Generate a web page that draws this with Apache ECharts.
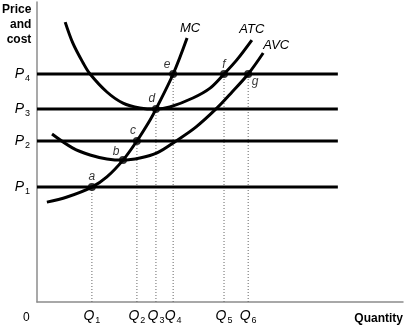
<!DOCTYPE html>
<html>
<head>
<meta charset="utf-8">
<script src="https://cdn.jsdelivr.net/npm/echarts@6/dist/echarts.min.js"></script>
<style>
  html, body { margin: 0; padding: 0; background: #fff; }
  #chart { width: 406px; height: 326px; }
</style>
</head>
<body>
<div id="chart"></div>
<script>
// Quantity levels Q1..Q6 and price levels P1..P4
const quantities = [1.5, 2.73, 3.25, 3.72, 5.11, 5.77];
const quantitySubs = ['1', '2', '3', '4', '5', '6'];
const prices = [3.83, 5.37, 6.43, 7.6];
const priceSubs = ['1', '2', '3', '4'];
const priceLineEnd = 8.22;

// Cost curves as [quantity, cost]
const mcCurve = [[0.27, 3.33], [0.82, 3.5], [1.5, 3.83], [1.91, 4.17], [2.35, 4.73], [2.73, 5.37], [3.09, 6.07], [3.25, 6.43], [3.72, 7.6], [4.1, 8.8]];
const atcCurve = [[0.77, 9.33], [0.98, 8.63], [1.26, 7.97], [1.45, 7.6], [1.91, 7.0], [2.35, 6.63], [2.81, 6.47], [3.25, 6.43], [3.63, 6.5], [4.26, 6.8], [4.73, 7.13], [5.11, 7.6], [5.46, 8.07], [5.87, 8.73]];
const avcCurve = [[0.41, 5.6], [0.98, 5.13], [1.45, 4.9], [1.91, 4.77], [2.35, 4.73], [2.81, 4.8], [3.28, 4.97], [3.8, 5.37], [4.34, 5.83], [4.92, 6.47], [5.33, 7.0], [5.77, 7.6], [6.18, 8.3]];

// Marked points: name, quantity, price
const pointNames = ['a', 'b', 'c', 'd', 'e', 'f', 'g'];
const pointX = [1.5, 2.35, 2.73, 3.25, 3.72, 5.11, 5.77];
const pointY = [3.83, 4.73, 5.37, 6.43, 7.6, 7.6, 7.6];
// points that get a dotted drop line to the quantity axis
const dropPoints = ['a', 'c', 'd', 'e', 'f', 'g'];

const FONT = 'Liberation Sans, Arial, Helvetica, sans-serif';

const labelPlacement = {
  a: { position: 'top', offset: [0, 2] },
  b: { position: 'top', offset: [-7, 4] },
  c: { position: 'top', offset: [-4, 2] },
  d: { position: 'top', offset: [-4, 2] },
  e: { position: 'top', offset: [-6, 3] },
  f: { position: 'top', offset: [0, 3] },
  g: { position: 'bottom', offset: [7, -4] }
};

const chart = echarts.init(document.getElementById('chart'), null, { renderer: 'canvas' });

function curveSeries(data, name, labelOffset) {
  return {
    type: 'line',
    smooth: 0.35,
    showSymbol: false,
    symbol: 'none',
    silent: true,
    lineStyle: { color: '#000', width: 3 },
    endLabel: {
      show: true, formatter: name, distance: 0, offset: labelOffset,
      align: 'center', verticalAlign: 'bottom',
      fontFamily: FONT, fontStyle: 'italic', fontSize: 13, color: '#000'
    },
    data: data,
    z: 3
  };
}

const series = [];

// horizontal price lines
prices.forEach(p => {
  series.push({
    type: 'line', symbol: 'none', silent: true,
    lineStyle: { color: '#000', width: 3 },
    data: [[0, p], [priceLineEnd, p]],
    z: 2
  });
});

// dotted drop lines
dropPoints.forEach(n => {
  const i = pointNames.indexOf(n);
  series.push({
    type: 'line', symbol: 'none', silent: true,
    lineStyle: { color: '#666', width: 1, type: [1, 2] },
    data: [[pointX[i], 0], [pointX[i], pointY[i]]],
    z: 1
  });
});

series.push(curveSeries(mcCurve, 'MC', [3, -3]));
series.push(curveSeries(atcCurve, 'ATC', [0, -4]));
series.push(curveSeries(avcCurve, 'AVC', [13, -1]));

series.push({
  type: 'scatter', symbolSize: 8, silent: true,
  itemStyle: { color: '#000' },
  data: pointNames.map((n, i) => ({
    value: [pointX[i], pointY[i]],
    label: {
      show: true, formatter: n, position: labelPlacement[n].position, offset: labelPlacement[n].offset,
      distance: 2, fontFamily: FONT, fontStyle: 'italic', fontSize: 12, color: '#000'
    }
  })),
  z: 5
});

const subRich = {
  i: { fontFamily: FONT, fontStyle: 'italic', fontSize: 14, color: '#000', lineHeight: 16 },
  s: { fontFamily: FONT, fontSize: 9, color: '#000', padding: [9, 0, 0, 1], lineHeight: 16 }
};

chart.setOption({
  animation: false,
  backgroundColor: '#fff',
  grid: { left: 37, right: 3, top: 2, bottom: 24, containLabel: false },
  xAxis: {
    type: 'value', min: 0, max: 10,
    name: 'Quantity', nameLocation: 'end', nameGap: 0,
    nameTextStyle: { fontFamily: FONT, fontWeight: 'bold', fontSize: 12, color: '#000', align: 'right', verticalAlign: 'top', padding: [11, 0, 0, 0] },
    axisLine: { lineStyle: { color: '#8c8c8c', width: 1.5 } },
    axisTick: { show: false },
    splitLine: { show: false },
    axisLabel: {
      customValues: quantities, margin: 6,
      formatter: v => '{i|Q}{s|' + quantitySubs[quantities.indexOf(v)] + '}',
      rich: subRich
    }
  },
  yAxis: {
    type: 'value', min: 0, max: 10,
    axisLine: { lineStyle: { color: '#8c8c8c', width: 1.5 } },
    axisTick: { show: false },
    splitLine: { show: false },
    axisLabel: {
      customValues: prices, margin: 7,
      formatter: v => '{i|P}{s|' + priceSubs[prices.indexOf(v)] + '}',
      rich: subRich
    }
  },
  graphic: [
    { type: 'text', left: 2, top: 2, style: { text: 'Price\nand\ncost', fill: '#000', font: 'bold 12px ' + FONT, textAlign: 'right', align: 'right', lineHeight: 15 } },
    { type: 'text', left: 23, top: 312, style: { text: '0', fill: '#000', font: '12px ' + FONT } }
  ],
  series: series
});
</script>
</body>
</html>
